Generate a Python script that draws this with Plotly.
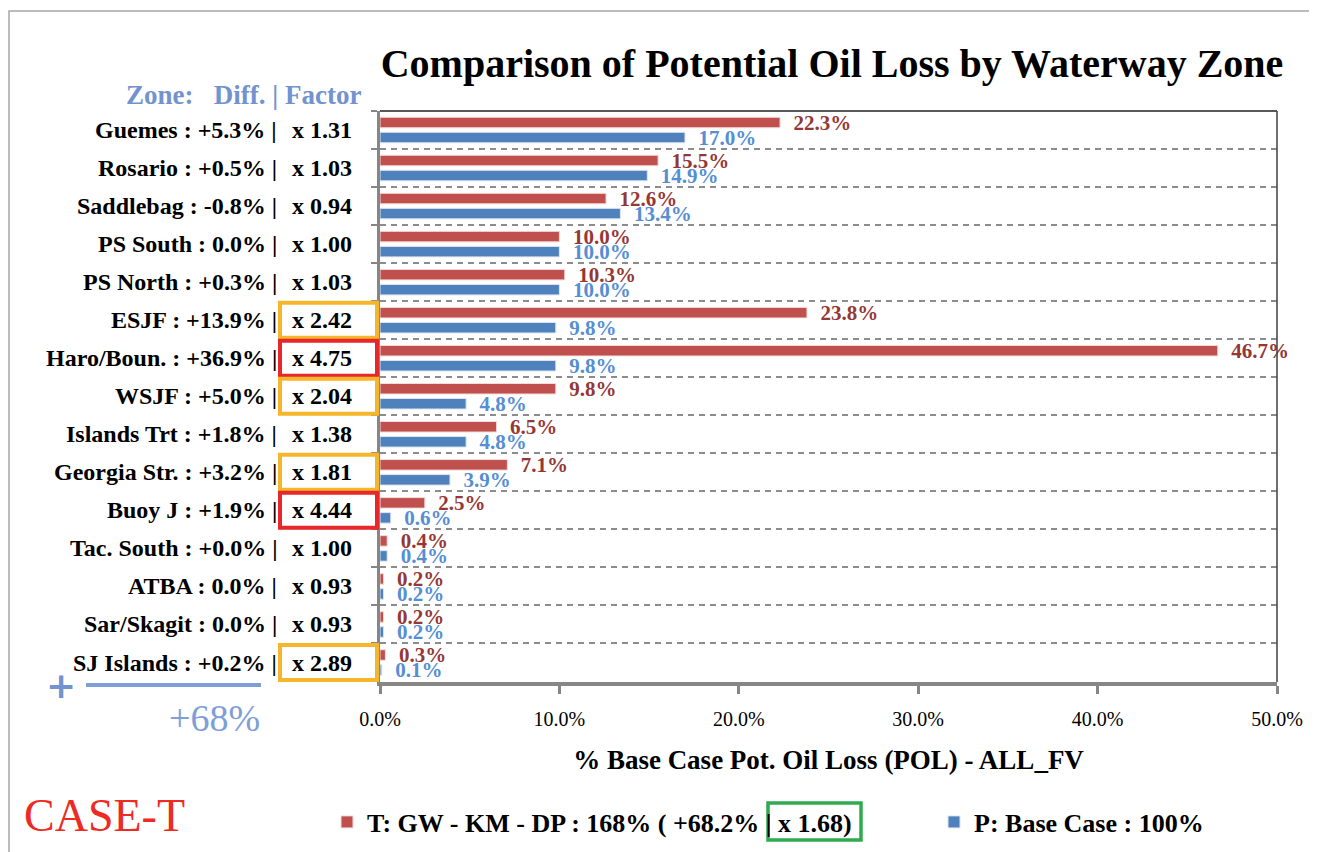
import plotly.graph_objects as go

# ---------------- data ----------------
zones = ["Guemes", "Rosario", "Saddlebag", "PS South", "PS North", "ESJF", "Haro/Boun.",
         "WSJF", "Islands Trt", "Georgia Str.", "Buoy J", "Tac. South", "ATBA",
         "Sar/Skagit", "SJ Islands"]
case_t = [22.3, 15.5, 12.6, 10.0, 10.3, 23.8, 46.7, 9.8, 6.5, 7.1, 2.5, 0.4, 0.2, 0.2, 0.3]
base_p = [17.0, 14.9, 13.4, 10.0, 10.0, 9.8, 9.8, 4.8, 4.8, 3.9, 0.6, 0.4, 0.2, 0.2, 0.1]
diffs = ["+5.3%", "+0.5%", "-0.8%", "0.0%", "+0.3%", "+13.9%", "+36.9%", "+5.0%",
         "+1.8%", "+3.2%", "+1.9%", "+0.0%", "0.0%", "0.0%", "+0.2%"]
factors = ["1.31", "1.03", "0.94", "1.00", "1.03", "2.42", "4.75", "2.04",
           "1.38", "1.81", "4.44", "1.00", "0.93", "0.93", "2.89"]
# highlight level for factor boxes: "" none, "warn" orange, "high" red
highlight = ["", "", "", "", "", "warn", "high", "warn", "", "warn", "high", "", "", "", "warn"]

title_text = "Comparison of Potential Oil Loss by Waterway Zone"
x_title = "% Base Case Pot. Oil Loss (POL) - ALL_FV"
name_t = "T: GW - KM - DP : 168% ( +68.2% |\u00a0x 1.68)"
name_p = "P: Base Case : 100%"
header_text = "Zone:\u00a0\u00a0\u00a0Diff. | Factor"
total_text = "+68%"
case_text = "CASE-T"

# ---------------- styling ----------------
FONT = "Liberation Serif"
RED = "#C0504D"
BLUE = "#4F81BD"
RED_TXT = "#953735"
BLUE_TXT = "#558ED5"
LIGHT_BLUE = "#7293CF"
GRID = "#8C8C8C"
AXIS = "#868686"

OFF = 8                      # page offset of the figure (body margin)
W, H = 1309, 844
L, R, T, B = 372, 40, 103, 170
PW, PH = W - L - R, H - T - B


def px_x(px):
    """page pixel x -> paper x"""
    return (px - OFF - L) / PW


def px_y(py):
    """page pixel y -> paper y"""
    return (H - B - (py - OFF)) / PH


fig = go.Figure()
fig.add_trace(go.Bar(
    y=zones, x=case_t, orientation="h", name=name_t,
    marker=dict(color=RED, line=dict(color="#F2DCDB", width=1)),
    texttemplate="\u00a0\u00a0%{x:.1f}%", textposition="outside",
    textfont=dict(family=FONT, size=21, color=RED_TXT, weight="bold"),
    constraintext="none", cliponaxis=False,
))
fig.add_trace(go.Bar(
    y=zones, x=base_p, orientation="h", name=name_p,
    marker=dict(color=BLUE, line=dict(color="#DCE6F2", width=1)),
    texttemplate="\u00a0\u00a0%{x:.1f}%", textposition="outside",
    textfont=dict(family=FONT, size=21, color=BLUE_TXT, weight="bold"),
    constraintext="none", cliponaxis=False,
))

annotations = []
shapes = []
for i, (z, d, f, h) in enumerate(zip(zones, diffs, factors, highlight)):
    annotations.append(dict(
        x=px_x(279), xref="paper", y=z, yref="y", xanchor="right", yanchor="middle",
        text=f"{z} : {d} |", showarrow=False,
        font=dict(family=FONT, size=24, color="black", weight="bold")))
    annotations.append(dict(
        x=px_x(290), xref="paper", y=z, yref="y", xanchor="left", yanchor="middle",
        text=f"x {f}", showarrow=False,
        font=dict(family=FONT, size=24, color="black", weight="bold")))
    if h:
        col = "#F5B62B" if h == "warn" else "#E8272A"
        shapes.append(dict(type="rect", xref="paper", yref="y",
                           x0=px_x(280), x1=px_x(377), y0=i - 0.46, y1=i + 0.46,
                           line=dict(color=col, width=4), layer="above"))

# header
annotations.append(dict(x=px_x(363), xref="paper", y=px_y(95), yref="paper",
                        xanchor="right", yanchor="middle", text=header_text, showarrow=False,
                        font=dict(family=FONT, size=27, color=LIGHT_BLUE, weight="bold")))
# plus sign and total
annotations.append(dict(x=px_x(61), xref="paper", y=px_y(685), yref="paper",
                        xanchor="center", yanchor="middle", text="+", showarrow=False,
                        font=dict(family="DejaVu Sans", size=36, color=LIGHT_BLUE, weight="bold")))
annotations.append(dict(x=px_x(262), xref="paper", y=px_y(718), yref="paper",
                        xanchor="right", yanchor="middle", text=total_text, showarrow=False,
                        font=dict(family=FONT, size=38, color="#7E9ED8")))
annotations.append(dict(x=px_x(22), xref="paper", y=px_y(815), yref="paper",
                        xanchor="left", yanchor="middle", text=case_text, showarrow=False,
                        font=dict(family=FONT, size=46, color="#EE2A24")))

# decorative / frame shapes
shapes += [
    dict(type="line", xref="paper", yref="paper", x0=px_x(86), x1=px_x(261),
         y0=px_y(685), y1=px_y(685), line=dict(color="#7E9ED8", width=4)),
    dict(type="line", xref="paper", yref="paper", x0=0, x1=1, y0=1, y1=1,
         line=dict(color="#222222", width=1.5)),
    dict(type="line", xref="paper", yref="paper", x0=1, x1=1, y0=0, y1=1,
         line=dict(color="#404040", width=1.5)),
    dict(type="rect", xref="paper", yref="paper", x0=px_x(9), x1=px_x(1312),
         y0=px_y(870), y1=px_y(11), line=dict(color="#A6A6A6", width=1.5), layer="below"),
    dict(type="rect", xref="paper", yref="paper", x0=px_x(768), x1=px_x(861),
         y0=px_y(840), y1=px_y(803), line=dict(color="#2EAA4F", width=3.5)),
]

fig.update_layout(
    width=W, height=H,
    margin=dict(l=L, r=R, t=T, b=B, autoexpand=False),
    paper_bgcolor="white", plot_bgcolor="white",
    barmode="group", bargap=0.21, bargroupgap=0.3,
    title=dict(text=title_text, x=px_x(832), xref="paper", xanchor="center",
               y=1 - (63 - OFF) / H, yref="container", yanchor="middle",
               font=dict(family=FONT, size=40, color="black", weight="bold")),
    xaxis=dict(range=[0, 50], dtick=10, tick0=0, ticksuffix="%", tickformat=".1f",
               showgrid=False, zeroline=False, showline=True, linecolor=AXIS, linewidth=4,
               ticks="outside", ticklen=8, tickwidth=3, tickcolor=AXIS,
               ticklabelstandoff=8,
               tickfont=dict(family=FONT, size=20, color="black"),
               title=dict(text=x_title, standoff=22,
                          font=dict(family=FONT, size=27, color="black", weight="bold"))),
    yaxis=dict(autorange="reversed", type="category", tickson="boundaries",
               showticklabels=False, showgrid=True, gridcolor=GRID, gridwidth=1.5,
               griddash="6px,5px", showline=True, linecolor=AXIS, linewidth=3,
               ticks="outside", ticklen=6, tickwidth=2, tickcolor=AXIS, zeroline=False),
    legend=dict(orientation="h", x=px_x(327), xanchor="left", y=px_y(822), yanchor="middle",
                entrywidth=562, entrywidthmode="pixels", bgcolor="rgba(0,0,0,0)",
                font=dict(family=FONT, size=26, color="black", weight="bold")),
    annotations=annotations,
    shapes=shapes,
)

fig.write_html("out.html")
